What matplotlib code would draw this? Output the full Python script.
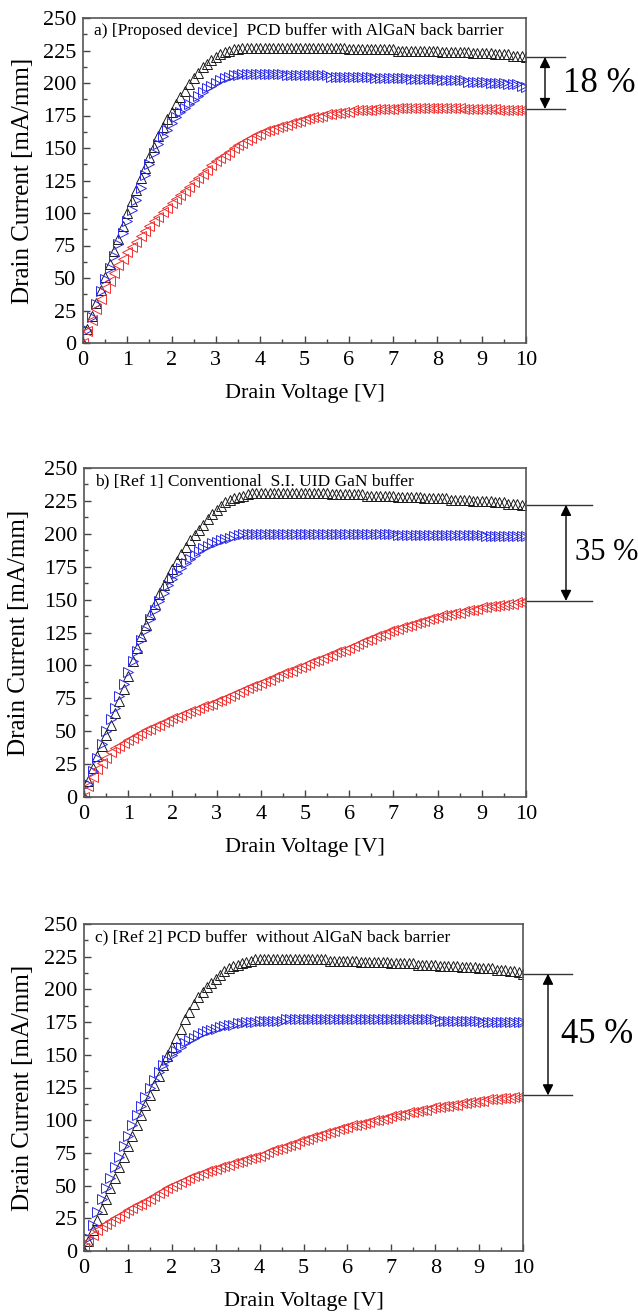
import numpy as np
import matplotlib.pyplot as plt
from matplotlib import transforms

plt.rcParams['font.family'] = ['Liberation Serif', 'DejaVu Serif']

# drain voltage sweep, 0 .. 10 V in 0.1 V steps
vd = np.round(np.arange(0, 101) * 0.1, 1)

# a) proposed device
a_black = [0, 11, 21, 31, 41, 51, 61, 71, 80, 90,
           100, 109, 118, 127, 135, 143, 151, 159, 166, 172,
           178, 184, 189, 194, 199, 204, 208, 212, 215, 218,
           220, 222, 224, 225, 226, 226, 227, 227, 227, 227,
           227, 227, 227, 227, 227, 227, 227, 227, 227, 227,
           227, 227, 227, 227, 227, 227, 227, 227, 227, 227,
           226, 226, 226, 226, 226, 226, 226, 226, 226, 226,
           226, 225, 225, 225, 225, 225, 225, 225, 225, 225,
           225, 224, 224, 224, 224, 224, 224, 224, 223, 223,
           223, 223, 223, 222, 222, 222, 222, 221, 221, 221,
           220]
a_blue = [0, 10, 20, 30, 40, 49, 58, 67, 76, 85,
          94, 102, 110, 119, 129, 138, 146, 153, 159, 164,
          169, 174, 178, 181, 184, 187, 190, 193, 196, 198,
          200, 202, 204, 205, 206, 206, 207, 207, 207, 207,
          207, 207, 207, 207, 207, 207, 206, 206, 206, 206,
          206, 206, 206, 206, 206, 206, 205, 205, 205, 205,
          205, 205, 205, 205, 205, 205, 204, 204, 204, 204,
          204, 204, 204, 204, 203, 203, 203, 203, 203, 203,
          203, 202, 202, 202, 202, 202, 202, 201, 201, 201,
          201, 201, 200, 200, 200, 200, 199, 199, 199, 198,
          197]
a_red = [0, 9, 18, 26, 34, 42, 48, 54, 60, 65,
         70, 74, 78, 82, 86, 90, 94, 97, 101, 104,
         108, 111, 114, 117, 120, 124, 127, 130, 133, 137,
         140, 142, 145, 147, 150, 152, 154, 156, 158, 160,
         161, 163, 164, 165, 166, 167, 168, 169, 170, 171,
         172, 173, 174, 174, 175, 176, 176, 177, 177, 178,
         178, 179, 179, 179, 179, 179, 180, 180, 180, 180,
         180, 181, 181, 181, 181, 181, 181, 181, 181, 181,
         181, 181, 181, 181, 181, 181, 180, 180, 180, 180,
         180, 180, 180, 180, 179, 179, 179, 179, 179, 179,
         179]

# b) ref 1
b_black = [0, 12, 22, 31, 39, 47, 55, 64, 73, 82,
           92, 103, 113, 122, 131, 139, 147, 154, 161, 167,
           173, 179, 185, 190, 195, 199, 203, 207, 211, 215,
           218, 221, 224, 226, 227, 228, 229, 230, 231, 231,
           231, 231, 231, 231, 231, 231, 231, 231, 231, 231,
           231, 231, 231, 231, 231, 231, 230, 230, 230, 230,
           230, 230, 230, 230, 229, 229, 229, 229, 229, 229,
           229, 228, 228, 228, 228, 228, 228, 227, 227, 227,
           227, 227, 227, 226, 226, 226, 226, 226, 225, 225,
           225, 225, 225, 224, 224, 224, 223, 223, 223, 222,
           222]
b_blue = [0, 10, 20, 30, 40, 50, 59, 68, 77, 86,
          95, 103, 111, 119, 127, 135, 142, 149, 155, 161,
          166, 170, 174, 178, 181, 184, 187, 189, 191, 193,
          194, 195, 196, 197, 198, 199, 200, 200, 200, 200,
          200, 200, 200, 200, 200, 200, 200, 200, 200, 200,
          200, 200, 200, 200, 200, 200, 200, 200, 200, 200,
          200, 200, 200, 200, 200, 200, 200, 200, 200, 200,
          200, 199, 199, 199, 199, 199, 199, 199, 199, 199,
          199, 199, 199, 199, 199, 199, 199, 199, 199, 199,
          199, 198, 198, 198, 198, 198, 198, 198, 198, 198,
          198]
b_red = [0, 8, 15, 21, 26, 30, 34, 37, 39, 41,
         43, 45, 47, 49, 51, 52, 54, 55, 57, 58,
         60, 61, 62, 64, 65, 66, 68, 69, 70, 71,
         73, 74, 75, 77, 78, 80, 81, 83, 84, 85,
         87, 88, 89, 91, 92, 94, 95, 96, 98, 99,
         100, 102, 103, 104, 106, 107, 108, 110, 111, 112,
         113, 115, 116, 118, 119, 120, 122, 123, 124, 126,
         127, 128, 129, 130, 131, 132, 133, 134, 135, 136,
         137, 138, 138, 139, 140, 140, 141, 142, 142, 143,
         144, 144, 145, 145, 146, 146, 147, 147, 148, 148,
         149]

# c) ref 2
c_black = [0, 8, 16, 24, 32, 40, 48, 56, 64, 72,
           80, 88, 96, 104, 112, 119, 127, 134, 142, 149,
           156, 163, 170, 177, 183, 189, 194, 198, 202, 205,
           208, 211, 214, 216, 218, 219, 220, 221, 222, 223,
           223, 223, 223, 223, 223, 223, 223, 223, 223, 223,
           223, 223, 223, 223, 223, 223, 222, 222, 222, 222,
           222, 222, 222, 221, 221, 221, 221, 221, 221, 221,
           220, 220, 220, 220, 220, 220, 219, 219, 219, 219,
           219, 218, 218, 218, 218, 218, 217, 217, 217, 217,
           216, 216, 216, 216, 215, 215, 215, 214, 214, 213,
           212]
c_blue = [0, 10, 20, 30, 40, 48, 56, 64, 72, 80,
          88, 96, 104, 111, 118, 125, 131, 137, 142, 146,
          150, 153, 156, 159, 161, 163, 165, 167, 168, 169,
          170, 171, 172, 173, 173, 174, 174, 175, 175, 175,
          176, 176, 176, 176, 176, 176, 177, 177, 177, 177,
          177, 177, 177, 177, 177, 177, 177, 177, 177, 177,
          177, 177, 177, 177, 177, 177, 177, 177, 177, 177,
          177, 177, 177, 177, 177, 177, 177, 177, 177, 177,
          177, 176, 176, 176, 176, 176, 176, 176, 176, 176,
          176, 175, 175, 175, 175, 175, 175, 175, 175, 175,
          175]
c_red = [2, 8, 12, 16, 19, 21, 23, 25, 27, 29,
         31, 33, 35, 36, 38, 40, 42, 44, 46, 48,
         50, 51, 53, 54, 56, 57, 58, 60, 61, 62,
         63, 64, 65, 66, 67, 68, 69, 70, 71, 72,
         73, 74, 76, 77, 78, 79, 80, 81, 82, 84,
         85, 86, 87, 88, 89, 90, 91, 92, 93, 94,
         95, 96, 96, 97, 98, 99, 100, 100, 101, 102,
         103, 104, 104, 105, 106, 106, 107, 108, 108, 109,
         110, 110, 111, 111, 112, 112, 113, 113, 114, 114,
         115, 115, 116, 116, 116, 117, 117, 117, 118, 118,
         118]

titles = ['a) [Proposed device]  PCD buffer with AlGaN back barrier',
          'b) [Ref 1] Conventional  S.I. UID GaN buffer',
          'c) [Ref 2] PCD buffer  without AlGaN back barrier']
drops = ['18 %', '35 %', '45 %']
marks_top = [220, 222, 212]
marks_bot = [180, 149, 119]

panels = [(a_black, a_blue, a_red), (b_black, b_blue, b_red), (c_black, c_blue, c_red)]

W, H = 638, 1315
fig = plt.figure(figsize=(W / 100, H / 100), dpi=100)

# axes boxes in pixels: left, top, right, bottom
boxes = [(83, 18, 526, 343), (84, 468, 526, 797), (84, 924, 523, 1251)]
# line end, arrow x, text x (pixels), text size
ann = [(565, 545, 563, 25), (592, 566, 575, 22), (572, 548, 561, 25)]
# right edge of the rotated y label (pixels)
ylab_x = [34, 30, 34]

for i, (l, t, r, b) in enumerate(boxes):
    ax = fig.add_axes([l / W, 1 - b / H, (r - l) / W, (b - t) / H])
    blk, blu, red = panels[i]
    ax.plot(vd, blk, ls='none', marker='^', ms=7, mfc='none', mec='#1a1a1a', mew=0.7)
    ax.plot(vd, blu, ls='none', marker='>', ms=7, mfc='none', mec='#2a2ae6', mew=0.7)
    ax.plot(vd, red, ls='none', marker='<', ms=7, mfc='none', mec='#ee3030', mew=0.7)
    ax.set_xlim(0, 10)
    ax.set_ylim(0, 250)
    ax.set_xticks(range(0, 11))
    ax.set_xticks(np.arange(0.5, 10, 1), minor=True)
    ax.set_yticks(range(0, 251, 25))
    ax.set_yticks(np.arange(12.5, 250, 25), minor=True)
    ax.tick_params(direction='in', labelsize=16, length=5, width=1, color='#444444', pad=5)
    ax.tick_params(axis='x', pad=6)
    ax.tick_params(which='minor', direction='in', length=3, width=1, color='#444444')
    for s in ax.spines.values():
        s.set_color('#555555')
        s.set_linewidth(1.2)
    ax.set_xlabel('Drain Voltage [V]', fontsize=16, labelpad=10)
    ax.set_ylabel('Drain Current [mA/mm]', fontsize=18)
    ax.yaxis.set_label_coords((ylab_x[i] - l) / (r - l), 0.5)
    ax.text(0.025, 0.985, titles[i], transform=ax.transAxes, ha='left', va='top', fontsize=12.5)

    tr = transforms.blended_transform_factory(ax.transAxes, ax.transData)
    xe = (ann[i][0] - l) / (r - l)
    xa = (ann[i][1] - l) / (r - l)
    xt = (ann[i][2] - l) / (r - l)
    for yv in (marks_top[i], marks_bot[i]):
        ax.plot([1, xe], [yv, yv], transform=tr, color='#333333', lw=1, clip_on=False)
    ax.annotate('', xy=(xa, marks_top[i]), xytext=(xa, marks_bot[i]), xycoords=tr, textcoords=tr,
                arrowprops=dict(arrowstyle='<|-|>', color='black', lw=1, mutation_scale=16,
                                shrinkA=0, shrinkB=0))
    ax.text(xt, (marks_top[i] + marks_bot[i]) / 2, drops[i], transform=tr, ha='left', va='center',
            fontsize=ann[i][3])

fig.savefig('out.png', dpi=100)
